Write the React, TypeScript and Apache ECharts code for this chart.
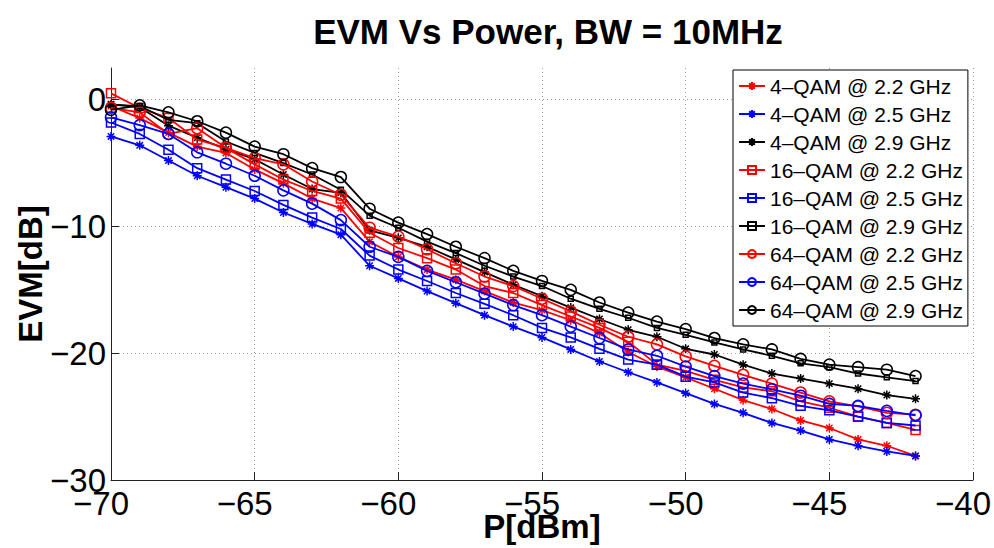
import React, { useEffect, useRef } from "react";
import * as echarts from "echarts";

const powerDbm = [-70, -69, -68, -67, -66, -65, -64, -63, -62, -61, -60, -59, -58, -57, -56, -55, -54, -53, -52, -51, -50, -49, -48, -47, -46, -45, -44, -43, -42];

const qam4_22 = [-0.5, -1.45, -2.6, -3.7, -4.2, -5.5, -6.6, -7.8, -8.55, -11.2, -12.4, -13.4, -14.2, -15.1, -16.0, -16.6, -17.4, -18.4, -19.9, -21.05, -21.9, -22.8, -23.7, -24.4, -25.3, -25.9, -26.8, -27.3, -28.1];
const qam4_25 = [-2.9, -3.6, -4.8, -6.0, -6.9, -7.8, -8.9, -9.8, -10.65, -13.1, -14.1, -15.1, -16.05, -17.0, -17.9, -18.75, -19.7, -20.65, -21.5, -22.3, -23.15, -24.0, -24.7, -25.5, -26.1, -26.8, -27.3, -27.75, -28.1];
const qam4_29 = [-0.35, -0.6, -2.05, -3.0, -3.9, -4.7, -5.9, -7.05, -7.35, -10.3, -10.9, -11.6, -12.6, -13.6, -14.6, -15.5, -16.4, -17.3, -18.15, -18.7, -19.65, -20.1, -20.9, -21.6, -22.0, -22.4, -22.8, -23.3, -23.6];
const qam16_22 = [0.5, -0.65, -1.45, -3.15, -3.8, -5.1, -6.3, -7.2, -7.8, -10.5, -11.7, -12.5, -13.4, -14.7, -15.25, -16.2, -17.1, -18.0, -19.1, -20.9, -21.4, -22.1, -22.7, -23.0, -23.8, -24.3, -25.0, -25.5, -26.05];
const qam16_25 = [-1.8, -2.7, -3.95, -5.4, -6.3, -7.2, -8.3, -9.3, -10.2, -12.3, -13.4, -14.3, -15.25, -16.1, -17.0, -18.0, -18.75, -19.65, -20.5, -20.9, -21.85, -22.3, -23.1, -23.55, -24.15, -24.5, -25.0, -25.5, -25.7];
const qam16_29 = [-0.4, -0.5, -1.6, -1.85, -3.3, -4.2, -5.0, -5.9, -7.1, -9.15, -10.1, -11.2, -12.1, -13.1, -13.95, -14.7, -15.7, -16.5, -17.2, -18.0, -18.55, -19.15, -19.7, -20.2, -20.8, -21.1, -21.6, -21.9, -22.2];
const qam64_22 = [-0.65, -1.0, -2.7, -2.25, -3.8, -4.6, -5.1, -6.45, -7.5, -10.1, -10.8, -11.8, -12.9, -13.95, -14.7, -15.7, -16.7, -17.75, -18.7, -19.3, -20.25, -21.0, -21.7, -22.4, -23.1, -23.8, -24.2, -24.7, -24.85];
const qam64_25 = [-1.4, -2.0, -2.7, -4.15, -5.05, -6.0, -7.15, -8.2, -9.5, -11.6, -12.4, -13.5, -14.4, -15.3, -16.2, -17.0, -17.9, -18.8, -19.7, -20.2, -21.05, -21.8, -22.4, -22.85, -23.35, -24.0, -24.15, -24.55, -24.9];
const qam64_29 = [-0.8, -0.45, -1.0, -1.7, -2.6, -3.7, -4.3, -5.4, -6.1, -8.6, -9.7, -10.6, -11.6, -12.5, -13.5, -14.3, -15.0, -16.0, -16.8, -17.5, -18.1, -18.8, -19.3, -19.7, -20.45, -20.9, -21.1, -21.3, -21.8];

const seriesNames = [
  "4–QAM @ 2.2 GHz",
  "4–QAM @ 2.5 GHz",
  "4–QAM @ 2.9 GHz",
  "16–QAM @ 2.2 GHz",
  "16–QAM @ 2.5 GHz",
  "16–QAM @ 2.9 GHz",
  "64–QAM @ 2.2 GHz",
  "64–QAM @ 2.5 GHz",
  "64–QAM @ 2.9 GHz",
];
const seriesValues = [qam4_22, qam4_25, qam4_29, qam16_22, qam16_25, qam16_29, qam64_22, qam64_25, qam64_29];
const seriesColors = ["#ff0000", "#0000ff", "#000000", "#ff0000", "#0000ff", "#000000", "#ff0000", "#0000ff", "#000000"];
const seriesMarkers = ["star", "star", "star", "square", "square", "smallsquare", "circle", "circle", "circle"];

const xTickValues = [-70, -65, -60, -55, -50, -45, -40];
const yTickValues = [-30, -20, -10, 0];

const FONT = "'Liberation Sans', Arial, Helvetica, sans-serif";
const ASTERISK = "path://M5,0L5,10M0,5L10,5M1.46,1.46L8.54,8.54M1.46,8.54L8.54,1.46";

const fmt = (v: number) => (v < 0 ? "−" + Math.abs(v) : String(v));

export default function App() {
  const ref = useRef<HTMLDivElement>(null);
  useEffect(() => {
    if (!ref.current) return;
    const chart = echarts.init(ref.current, undefined, { renderer: "svg" });
    const series = seriesNames.map((name, i) => {
      const m = seriesMarkers[i];
      const color = seriesColors[i];
      let symbol = "circle";
      let symbolSize = 11;
      if (m === "star") {
        symbol = ASTERISK;
        symbolSize = 9;
      } else if (m === "square") {
        symbol = "rect";
        symbolSize = 9;
      } else if (m === "smallsquare") {
        symbol = "rect";
        symbolSize = 5;
      }
      return {
        type: "line",
        name,
        data: powerDbm.map((x, k) => [x, seriesValues[i][k]]),
        symbol,
        symbolSize,
        lineStyle: { color, width: 1.8 },
        itemStyle: {
          color: "rgba(255,255,255,0)",
          borderColor: color,
          borderWidth: 1.5,
        },
        emphasis: { disabled: true },
        z: 2 + i,
      };
    });
    chart.setOption({
      animation: false,
      backgroundColor: "#ffffff",
      title: {
        text: "EVM Vs Power, BW = 10MHz",
        left: 543,
        top: 9,
        textAlign: "center",
        textStyle: { fontFamily: FONT, fontSize: 35, fontWeight: "bold", color: "#000" },
      },
      grid: { left: 111, right: 21, top: 68, bottom: 68, containLabel: false, outerBoundsMode: "none" },
      legend: {
        orient: "vertical",
        left: 733,
        top: 70,
        padding: [4, 5, 4, 5],
        itemGap: 4,
        itemWidth: 26,
        itemHeight: 10,
        borderColor: "#000",
        borderWidth: 1,
        backgroundColor: "#fff",
        textStyle: { fontFamily: FONT, fontSize: 21, color: "#000", lineHeight: 24 },
        data: seriesNames,
      },
      xAxis: {
        type: "value",
        min: -70,
        max: -40,
        interval: 5,
        name: "P[dBm]",
        nameLocation: "middle",
        nameGap: 30,
        nameMoveOverlap: false,
        nameTextStyle: { fontFamily: FONT, fontSize: 33, fontWeight: "bold", color: "#000", verticalAlign: "top" },
        axisLine: { show: true, onZero: false, lineStyle: { color: "#222", width: 1 } },
        axisTick: { show: true, inside: true, length: 8, lineStyle: { color: "#222" } },
        axisLabel: {
          fontFamily: FONT,
          fontSize: 33,
          color: "#000",
          margin: 7,
          padding: [0, 20, 0, 0],
          formatter: fmt,
          customValues: xTickValues,
        },
        splitLine: { show: true, lineStyle: { color: "#a0a0a0", type: [1, 3], width: 1 } },
      },
      yAxis: {
        type: "value",
        min: -30,
        max: 2.5,
        name: "EVM[dB]",
        nameLocation: "middle",
        nameGap: 64,
        nameRotate: 90,
        nameMoveOverlap: false,
        nameTextStyle: { fontFamily: FONT, fontSize: 33, fontWeight: "bold", color: "#000" },
        axisLine: { show: true, onZero: false, lineStyle: { color: "#222", width: 1 } },
        axisTick: { show: true, inside: true, length: 8, lineStyle: { color: "#222" }, customValues: yTickValues },
        axisLabel: {
          fontFamily: FONT,
          fontSize: 33,
          color: "#000",
          margin: 5,
          formatter: fmt,
          customValues: yTickValues,
        },
        splitLine: { show: true, lineStyle: { color: "#a0a0a0", type: [1, 3], width: 1 } },
      },
      series,
    });
    return () => chart.dispose();
  }, []);
  return (
    <div
      ref={ref}
      style={{ position: "fixed", left: 0, top: 0, width: 994, height: 548, background: "#fff" }}
    />
  );
}
